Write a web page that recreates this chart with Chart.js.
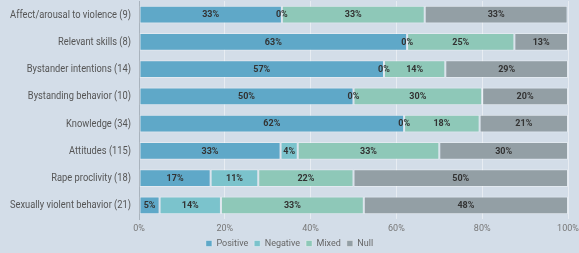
<!DOCTYPE html>
<html>
<head>
<meta charset="utf-8">
<script src="https://cdn.jsdelivr.net/npm/chart.js@4"></script>
<style>
  html, body { margin: 0; padding: 0; background: #d3dde8; }
  #wrap { width: 579px; height: 253px; }
</style>
</head>
<body>
<div id="wrap"><canvas id="chart"></canvas></div>
<script>
// categories (n = number of studies)
const CATEGORIES = [
  "Affect/arousal to violence (9)",
  "Relevant skills (8)",
  "Bystander intentions (14)",
  "Bystanding behavior (10)",
  "Knowledge (34)",
  "Attitudes (115)",
  "Rape proclivity (18)",
  "Sexually violent behavior (21)"
];

// series values, percent of studies
const POSITIVE = [33.3, 62.5, 57.1, 50, 61.8, 33, 16.7, 4.8];
const NEGATIVE = [0, 0, 0, 0, 0, 4, 11.1, 14.3];
const MIXED    = [33.3, 25, 14.3, 30, 17.6, 33, 22.2, 33.3];
const NULLS    = [33.3, 12.5, 28.6, 20, 20.6, 30, 50, 47.6];

const TICKS = [0, 20, 40, 60, 80, 100];

const FONT = "Roboto, sans-serif";

// % labels in the middle of each segment
const segLabels = {
  id: "segLabels",
  afterDatasetsDraw(chart) {
    const ctx = chart.ctx;
    ctx.save();
    ctx.font = "bold 9px " + FONT;
    ctx.fillStyle = "#333";
    ctx.textAlign = "center";
    ctx.textBaseline = "middle";
    chart.data.datasets.forEach((ds, i) => {
      const meta = chart.getDatasetMeta(i);
      meta.data.forEach((bar, j) => {
        const x = (bar.x + bar.base) / 2;
        ctx.fillText(Math.round(ds.data[j]) + "%", x, bar.y + 0.5);
      });
    });
    ctx.restore();
  }
};

// category labels, squeezed a bit since there's no narrow font here
const catLabels = {
  id: "catLabels",
  afterDraw(chart) {
    const ctx = chart.ctx;
    const yScale = chart.scales.y;
    ctx.save();
    ctx.font = "10px " + FONT;
    ctx.fillStyle = "#555";
    ctx.textAlign = "right";
    ctx.textBaseline = "middle";
    const widest = Math.max(...CATEGORIES.map(c => ctx.measureText(c).width));
    const sx = Math.min(1, 121 / widest);
    CATEGORIES.forEach((c, i) => {
      ctx.save();
      ctx.translate(chart.chartArea.left - 8, yScale.getPixelForValue(i) + 0.5);
      ctx.scale(sx, 1);
      ctx.fillText(c, 0, 0);
      ctx.restore();
    });
    ctx.restore();
  }
};

function series(label, data, color) {
  return {
    label, data,
    backgroundColor: color,
    borderColor: "rgba(255,255,255,0.35)",
    borderWidth: 1,
    borderSkipped: false,
    barPercentage: 0.66,
    categoryPercentage: 1
  };
}

new Chart(document.getElementById("chart"), {
  type: "bar",
  data: {
    labels: CATEGORIES,
    datasets: [
      series("Positive", POSITIVE, "#5fa8c8"),
      series("Negative", NEGATIVE, "#7bc3cc"),
      series("Mixed", MIXED, "#8ec8b8"),
      series("Null", NULLS, "#939fa5")
    ]
  },
  options: {
    indexAxis: "y",
    responsive: true,
    maintainAspectRatio: false,
    animation: false,
    layout: { padding: { top: 1, right: 0, bottom: -5, left: 0 } },
    scales: {
      x: {
        stacked: true,
        min: 0, max: 100,
        afterBuildTicks: s => { s.ticks = TICKS.map(v => ({ value: v })); },
        afterFit: s => { s.height = 14; s.paddingRight = 11; s.paddingLeft = 0; },
        ticks: { callback: v => v + "%", color: "#777", font: { family: FONT, size: 9 }, padding: 4 },
        grid: { color: "rgba(255,255,255,0.45)", drawTicks: false },
        border: { display: false }
      },
      y: {
        stacked: true,
        afterFit: s => { s.width = 139; },
        ticks: { display: false },
        grid: { display: false },
        border: { color: "#a9b3bd" }
      }
    },
    plugins: {
      legend: {
        position: "bottom",
        labels: {
          boxWidth: 6, boxHeight: 6, padding: 6,
          color: "#666",
          font: { family: FONT, size: 9 }
        }
      },
      tooltip: { enabled: false }
    }
  },
  plugins: [segLabels, catLabels]
});
</script>
</body>
</html>
